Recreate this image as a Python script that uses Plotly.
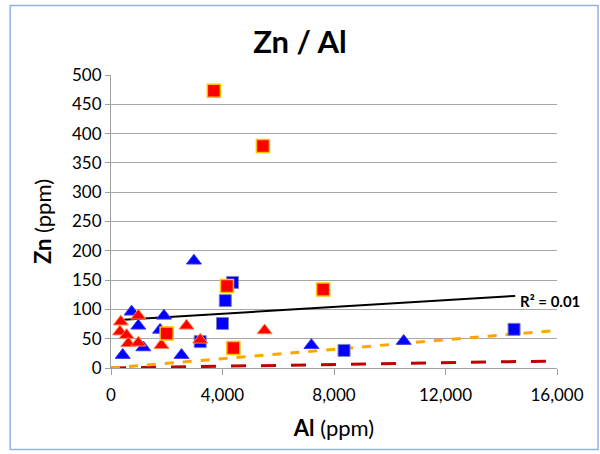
import plotly.graph_objects as go

# Data (Al ppm, Zn ppm)
blue_tri_al = [2975, 740, 980, 1900, 1760, 1160, 2530, 420, 7190, 10500]
blue_tri_zn = [183, 96, 72, 89, 65, 35, 22, 22, 39, 46]

red_tri_al = [350, 320, 560, 620, 980, 980, 1810, 2710, 3200, 5510]
red_tri_zn = [79, 62, 56, 42, 43, 89, 39, 72, 48, 64]

blue_sq_al = [4360, 4100, 4000, 3200, 8360, 14460]
blue_sq_zn = [146, 115, 76, 45, 30, 66]

red_sq_al = [3690, 5450, 4160, 7610, 1995, 4390]
red_sq_zn = [473, 379, 140, 134, 59, 34]

# Reference / trend lines (endpoints)
trend_al = [300, 14500]
trend_zn = [82, 123]
orange_al = [0, 16000]
orange_zn = [0, 64]
darkred_al = [0, 16000]
darkred_zn = [0, 12]

x_ticks = [0, 4000, 8000, 12000, 16000]
x_tick_text = ["0", "4,000", "8,000", "12,000", "16,000"]
y_ticks = [0, 50, 100, 150, 200, 250, 300, 350, 400, 450, 500]

FONT = "Lato"

fig = go.Figure()

fig.add_trace(go.Scatter(x=darkred_al, y=darkred_zn, mode="lines",
                         line=dict(color="#C00000", width=3, dash="longdash"),
                         showlegend=False, hoverinfo="skip"))
fig.add_trace(go.Scatter(x=orange_al, y=orange_zn, mode="lines",
                         line=dict(color="#FFA500", width=3, dash="dash"),
                         showlegend=False, hoverinfo="skip"))
fig.add_trace(go.Scatter(x=trend_al, y=trend_zn, mode="lines",
                         line=dict(color="black", width=2),
                         showlegend=False, hoverinfo="skip"))

fig.add_trace(go.Scatter(x=blue_sq_al, y=blue_sq_zn, mode="markers",
                         marker=dict(symbol="square", size=12, color="#0000FF",
                                     line=dict(color="#7F7FBF", width=1)),
                         showlegend=False))
fig.add_trace(go.Scatter(x=blue_tri_al, y=blue_tri_zn, mode="markers",
                         marker=dict(symbol="triangle-up", size=13, color="#0000FF",
                                     line=dict(color="#3333FF", width=1)),
                         showlegend=False))
fig.add_trace(go.Scatter(x=red_tri_al, y=red_tri_zn, mode="markers",
                         marker=dict(symbol="triangle-up", size=13, color="#FF0000",
                                     line=dict(color="#FF8040", width=1)),
                         showlegend=False))
fig.add_trace(go.Scatter(x=red_sq_al, y=red_sq_zn, mode="markers",
                         marker=dict(symbol="square", size=13, color="#FF0000",
                                     line=dict(color="#FFC000", width=1.5)),
                         showlegend=False))

fig.add_annotation(x=trend_al[-1], y=trend_zn[-1], xref="x", yref="y",
                   text="<b>R² = 0.01</b>", showarrow=False, xanchor="left",
                   xshift=3, yshift=-5,
                   font=dict(family=FONT, size=15, color="black"))

fig.update_layout(
    width=600, height=454,
    margin=dict(l=111, r=43, t=75, b=86),
    paper_bgcolor="white", plot_bgcolor="white",
    title=dict(text="<b>Zn / Al</b>", x=0.5, xanchor="center", y=0.907, yanchor="middle",
               font=dict(family=FONT, size=31, color="black")),
    font=dict(family=FONT, color="black"),
    shapes=[dict(type="rect", xref="paper", yref="paper",
                 x0=-0.226, x1=1.092, y0=-0.278, y1=1.237,
                 line=dict(color="#8EB4E3", width=1.5))],
)
fig.update_xaxes(range=[0, 16000], tickvals=x_ticks, ticktext=x_tick_text,
                 showgrid=False, showline=True, linecolor="#A0A0A0", linewidth=1,
                 ticks="outside", ticklen=6, tickcolor="#A0A0A0",
                 ticklabelstandoff=6,
                 tickfont=dict(family=FONT, size=17, color="black"),
                 title=dict(text="<b>Al</b> (ppm)", standoff=16,
                            font=dict(family=FONT, size=22, color="black")),
                 zeroline=False)
fig.update_yaxes(range=[0, 500], tickvals=y_ticks,
                 showgrid=True, gridcolor="#A6A6A6", gridwidth=1,
                 showline=True, linecolor="#A0A0A0", linewidth=1,
                 ticks="outside", ticklen=5, tickcolor="#A0A0A0",
                 tickfont=dict(family=FONT, size=17, color="black"),
                 title=dict(text="<b>Zn</b> (ppm)", standoff=14,
                            font=dict(family=FONT, size=22, color="black")),
                 zeroline=False)

fig.write_html("out.html")
